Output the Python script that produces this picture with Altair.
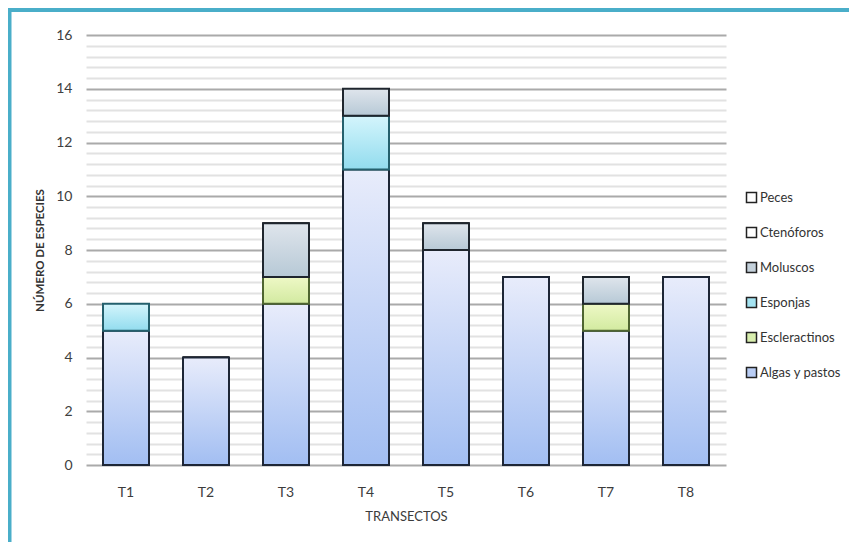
import altair as alt
import pandas as pd

transectos = ["T1", "T2", "T3", "T4", "T5", "T6", "T7", "T8"]
algas = [5, 4, 6, 11, 8, 7, 5, 7]
escleractinos = [0, 0, 1, 0, 0, 0, 1, 0]
esponjas = [1, 0, 0, 2, 0, 0, 0, 0]
moluscos = [0, 0, 2, 1, 1, 0, 1, 0]
ctenoforos = [0, 0, 0, 0, 0, 0, 0, 0]
peces = [0, 0, 0, 0, 0, 0, 0, 0]

stack_order = [
    ("Algas y pastos", algas),
    ("Escleractinos", escleractinos),
    ("Esponjas", esponjas),
    ("Moluscos", moluscos),
    ("Ctenóforos", ctenoforos),
    ("Peces", peces),
]
legend_order = ["Peces", "Ctenóforos", "Moluscos", "Esponjas", "Escleractinos", "Algas y pastos"]
legend_colors = ["#ffffff", "#ffffff", "#c4d1db", "#a4e3f1", "#d8eeae", "#b9cdf4"]

rows = []
for i, t in enumerate(transectos):
    base = 0
    for name, vals in stack_order:
        v = vals[i]
        rows.append({"t": t, "grupo": name, "v": v, "y0": base, "y1": base + v})
        base += v
df = pd.DataFrame(rows)

FONT = "Lato"
W, H = 640, 430

x_enc = alt.X("t:N", sort=transectos,
              scale=alt.Scale(paddingInner=0.425, paddingOuter=0.2125),
              axis=alt.Axis(title="TRANSECTOS", labelAngle=0, ticks=False, domain=False,
                            labelFontSize=14, labelColor="#3c3c3c", labelPadding=20,
                            titleFontSize=13, titleColor="#3c3c3c", titleFontWeight="normal",
                            titlePadding=11, labelFont=FONT, titleFont=FONT))

grid_vals = [round(i * 0.4, 1) for i in range(41)]
is_major = "abs(datum.value/2 - round(datum.value/2)) < 0.01"

y_axis = alt.Axis(
    title="NÚMERO DE ESPECIES", values=grid_vals, tickCount=100,
    labelExpr=f"{is_major} ? format(datum.value, 'd') : ''",
    labelOverlap=False,
    grid=True,
    gridColor=alt.ConditionalAxisColor(condition={"test": is_major, "value": "#aaaaaa"}, value="#e2e2e2"),
    gridWidth=2,
    domain=False, ticks=False,
    labelFontSize=14, labelColor="#404040", labelPadding=14, labelFont=FONT,
    titleFontSize=11.5, titleFontWeight="bold", titleColor="#333333", titlePadding=10, titleFont=FONT,
)
y_scale = alt.Scale(domain=[0, 16], nice=False)

legend_layer = alt.Chart(df).mark_bar(stroke="#222222", strokeWidth=1.5).encode(
    x=x_enc,
    y=alt.Y("y1:Q", scale=y_scale, axis=y_axis),
    y2="y0:Q",
    color=alt.Color("grupo:N",
                    scale=alt.Scale(domain=legend_order, range=legend_colors),
                    legend=alt.Legend(title=None, orient="none", legendX=659, legendY=156,
                                      symbolType="square", symbolSize=100,
                                      symbolStrokeColor="#222222", symbolStrokeWidth=1.5,
                                      labelFontSize=13, labelColor="#333333", labelFont=FONT,
                                      labelOffset=2, labelLimit=200, rowPadding=18)),
)


def grad(top, bottom):
    return alt.LinearGradient(gradient="linear",
                              stops=[alt.GradientStop(offset=0, color=top),
                                     alt.GradientStop(offset=1, color=bottom)],
                              x1=0, x2=0, y1=0, y2=1)


styles = {
    "Algas y pastos": (grad("#e8ecfb", "#a2bef2"), "#1d2636"),
    "Escleractinos": (grad("#eef8c6", "#d2eaa0"), "#4e6530"),
    "Esponjas": (grad("#d4f5fc", "#92dcee"), "#24606d"),
    "Moluscos": (grad("#dfe5ec", "#b7c9d6"), "#1f262e"),
}

layers = [legend_layer]
for name, (fill, stroke) in styles.items():
    layers.append(
        alt.Chart(df).transform_filter(f"datum.grupo === '{name}' && datum.v > 0")
        .mark_bar(fill=fill, stroke=stroke, strokeWidth=2)
        .encode(x=alt.X("t:N", sort=transectos), y="y1:Q", y2="y0:Q")
    )

frame_df = pd.DataFrame({"k": [0]})
top_rule = alt.Chart(frame_df).mark_rule(color="#4aaec9", strokeWidth=4).encode(
    x=alt.value(-78), x2=alt.value(763), y=alt.value(-25))
left_rule = alt.Chart(frame_df).mark_rule(color="#4aaec9", strokeWidth=4).encode(
    x=alt.value(-76.5), y=alt.value(-27), y2=alt.value(507))
layers += [top_rule, left_rule]

chart = alt.layer(*layers).properties(
    width=W, height=H,
    autosize=alt.AutoSizeParams(type="none"),
    padding={"left": 78, "top": 27, "right": 123, "bottom": 77},
    background="#ffffff",
).configure_view(stroke=None).configure_axis(labelFont=FONT, titleFont=FONT)

chart.save("out.html", embed_options={"renderer": "svg", "actions": False})
